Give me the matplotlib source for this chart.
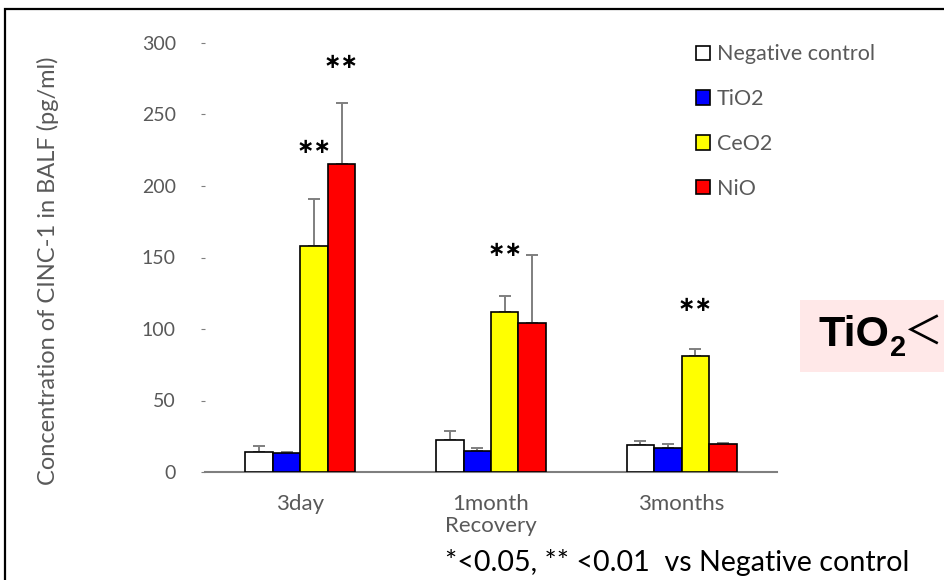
import matplotlib
matplotlib.use('Agg')
import numpy as np
import matplotlib.pyplot as plt
from matplotlib.patches import Patch, Rectangle

# data
groups = ['3day', '1month\nRecovery', '3months']
series = ['Negative control', 'TiO2', 'CeO2', 'NiO']
colors = ['#ffffff', '#0000ff', '#ffff00', '#ff0000']

neg_ctrl = [14.2, 22.4, 18.9]
tio2 = [13.5, 14.7, 17.0]
ceo2 = [158.3, 112.0, 80.9]
nio = [215.4, 104.0, 19.8]

neg_err = [3.8, 6.3, 3.1]
tio2_err = [0.8, 2.1, 2.6]
ceo2_err = [32.4, 11.0, 5.1]
nio_err = [42.9, 47.7, 0.7]

# significance marks: (group, series, height)
stars = [(0, 2, 227), (0, 3, 287), (1, 2, 155), (2, 2, 117)]

values = [neg_ctrl, tio2, ceo2, nio]
errors = [neg_err, tio2_err, ceo2_err, nio_err]

plt.rcParams['font.family'] = ['Lato', 'DejaVu Sans']

fig = plt.figure(figsize=(9.45, 5.8), dpi=100)
ax = fig.add_axes([205/945, 1 - 472/580, 572/945, 429/580])

x = np.arange(len(groups))
w = 0.144
for i in range(4):
    pos = x + (i - 1.5) * w
    ax.bar(pos, values[i], w, color=colors[i], edgecolor='black', linewidth=1.2, zorder=3)
    ax.errorbar(pos, values[i], yerr=[np.zeros(3), errors[i]], fmt='none',
                ecolor='#7f7f7f', elinewidth=1.4, capsize=4.5, capthick=1.4, zorder=2)

for g, s, h in stars:
    ax.text(x[g] + (s - 1.5) * w, h, '\u2217\u2217', ha='center', va='center', fontsize=15,
            family='DejaVu Sans', fontweight='bold', color='black')

ax.set_xlim(-0.5, 2.5)
ax.set_ylim(0, 300)
ax.set_yticks(range(0, 301, 50))
ax.set_xticks(x)
ax.set_xticklabels(groups, linespacing=1.1)
for sp in ['top', 'right', 'left']:
    ax.spines[sp].set_visible(False)
ax.spines['bottom'].set_color('#7f7f7f')
ax.spines['bottom'].set_linewidth(1.5)
ax.tick_params(axis='y', colors='#595959', labelsize=14, length=3, width=0.8, pad=18)
ax.tick_params(axis='y', color='#7f7f7f')
ax.tick_params(axis='x', colors='#595959', labelsize=16, length=0, pad=16)

fig.text(48/945, 1 - 271/580, 'Concentration of CINC-1 in BALF (pg/ml)', rotation=90,
         ha='center', va='center', fontsize=17, color='#595959')

handles = [Patch(facecolor=c, edgecolor='black', linewidth=1.2) for c in colors]
ax.legend(handles, series, loc='upper left', bbox_to_anchor=(677/945, 1 - 25/580),
          bbox_transform=fig.transFigure, frameon=False, fontsize=15.5,
          handlelength=0.65, handleheight=0.65, handletextpad=0.3, labelspacing=1.15,
          labelcolor='#595959')

fig.text(445/945, 1 - 563/580, '*<0.05, ** <0.01  vs Negative control', ha='left',
         va='center', fontsize=20.6, color='black')

# pink note box on the right edge
fig.add_artist(Rectangle((800/945, 1 - 372/580), 0.2, 72/580, transform=fig.transFigure,
                         facecolor='#ffe8e8', edgecolor='none'))
fig.text(819/945, 1 - 335/580, 'TiO', ha='left', va='center', fontsize=31,
         fontweight='bold', family='Liberation Sans')
fig.text(890/945, 1 - 348/580, '2', ha='left', va='center', fontsize=21,
         fontweight='bold', family='Liberation Sans')
fig.text(904/945, 1 - 334/580, '＜', ha='left', va='center', fontsize=28,
         family='Noto Sans CJK JP')

# outer frame
fig.add_artist(Rectangle((5/945, -0.1), 1.2, 1.1 - 9/580, transform=fig.transFigure,
                         fill=False, edgecolor='black', linewidth=1.6))

fig.savefig('out.png', dpi=100)
